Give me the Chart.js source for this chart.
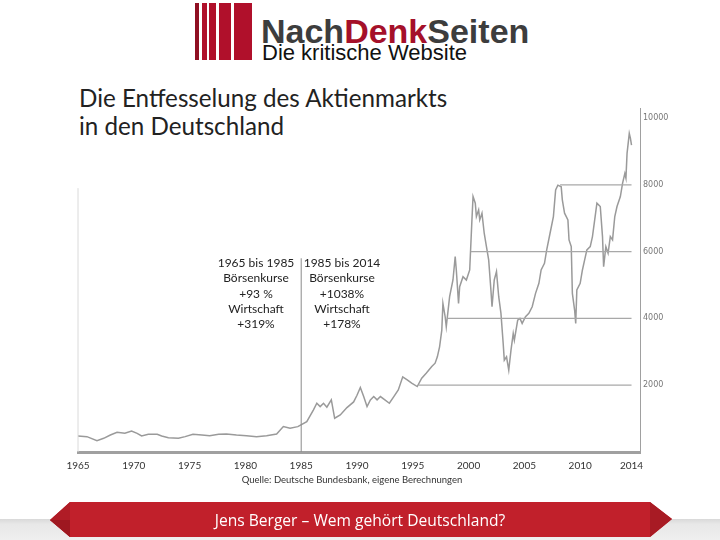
<!DOCTYPE html>
<html>
<head>
<meta charset="utf-8">
<script src="https://cdn.jsdelivr.net/npm/chart.js@4/dist/chart.umd.min.js"></script>
<style>
  html, body { margin:0; padding:0; background:#fff; }
  #wrap { position:relative; width:720px; height:540px; overflow:hidden; background:#fff; }
  #c { position:absolute; left:0; top:0; }
  .abs { position:absolute; white-space:nowrap; }
  .bar { position:absolute; top:3px; height:57px; background:#b0102b; }
  #logo1 { left:261px; top:12px; font-family:"Liberation Sans", Arial, sans-serif; font-weight:bold; font-size:34px; color:#3d3d3d; }
  #logo1 span { color:#a5102a; }
  #logo2 { left:262px; top:40px; font-family:"Liberation Sans", Arial, sans-serif; font-size:22px; color:#111; }
  #title { left:79px; top:84px; font-family:Lato, "Noto Sans", sans-serif; font-weight:400; font-size:24.2px; line-height:28px; color:#222; }
  .ann { position:absolute; top:255px; width:100px; text-align:center; font-family:Lato, "Noto Sans", sans-serif; font-size:12px; line-height:15.3px; color:#222; }
  #src { left:0; width:704px; top:474px; text-align:center; font-family:Lato, "Noto Sans", sans-serif; font-size:9.5px; color:#333; }
  #bannerText { left:0; width:720px; top:509px; text-align:center; font-family:"Open Sans", "Noto Sans", sans-serif; font-size:15.6px; color:#fff; }
</style>
</head>
<body>
<div id="wrap">
  <div class="bar" style="left:195px;width:4px;background:#8f0f22"></div>
  <div class="bar" style="left:202px;width:5px"></div>
  <div class="bar" style="left:209px;width:7px"></div>
  <div class="bar" style="left:219px;width:12px"></div>
  <div class="bar" style="left:234px;width:18px"></div>
  <div id="logo1" class="abs">Nach<span>Denk</span>Seiten</div>
  <div id="logo2" class="abs">Die kritische Website</div>
  <div id="title" class="abs">Die Entfesselung des Aktienmarkts<br>in den Deutschland</div>
  <canvas id="c" width="720" height="540"></canvas>
  <div class="ann" style="left:206px">1965 bis 1985<br>Börsenkurse<br>+93 %<br>Wirtschaft<br>+319%</div>
  <div class="ann" style="left:292px">1985 bis 2014<br>Börsenkurse<br>+1038%<br>Wirtschaft<br>+178%</div>
  <div id="src" class="abs">Quelle: Deutsche Bundesbank, eigene Berechnungen</div>
  <svg class="abs" style="left:0;top:495px" width="720" height="45">
    <defs>
      <linearGradient id="gb" x1="0" y1="0" x2="0" y2="1">
        <stop offset="0" stop-color="#d9d9d9"/>
        <stop offset="0.25" stop-color="#e8e8e8"/>
        <stop offset="1" stop-color="#efefef"/>
      </linearGradient>
    </defs>
    <rect x="0" y="24" width="720" height="21" fill="url(#gb)"/>
    <polygon points="70,7 650,7 672,24 650,42 70,42 50,25" fill="#c1202b"/>
    <polygon points="50,25 70,7 70,42" fill="#b01c26"/>
    <polygon points="50,25 70,25 70,42" fill="#9e1820"/>
    <polygon points="650,7 672,24 650,42" fill="#a81b24"/>
  </svg>
  <div id="bannerText" class="abs">Jens Berger – Wem gehört Deutschland?</div>
</div>
<script>
// ---- data (index level by year) ----
const years = [
  1965.0,1965.8,1966.7,1967.3,1967.9,1968.5,1969.2,1969.8,1970.3,1970.7,1971.3,1972.1,1972.5,1973.1,1974.0,1974.6,
  1975.3,1976.1,1976.8,1977.6,1978.3,1979.2,1980.1,1981.0,1981.9,1982.8,1983.4,1984.0,1984.7,1985.5,1986.1,1986.4,
  1986.7,1987.0,1987.3,1987.7,1988.0,1988.5,1989.1,1989.7,1990.0,1990.3,1990.6,1990.9,1991.2,1991.5,1991.8,1992.1,
  1992.5,1992.9,1993.3,1993.7,1994.1,1994.5,1994.9,1995.4,1995.8,1996.2,1996.7,1997.0,1997.2,1997.4,1997.6,1997.7,
  1997.9,1998.0,1998.3,1998.6,1998.8,1998.9,1999.1,1999.2,1999.5,1999.8,2000.1,2000.3,2000.4,2000.6,2000.7,2000.9,
  2001.0,2001.2,2001.4,2001.6,2001.8,2002.0,2002.1,2002.3,2002.5,2002.7,2002.9,2003.1,2003.2,2003.4,2003.6,2003.8,
  2004.0,2004.1,2004.4,2004.6,2004.8,2005.1,2005.4,2005.7,2006.0,2006.3,2006.5,2006.8,2007.0,2007.3,2007.6,2007.8,
  2008.0,2008.3,2008.4,2008.6,2008.9,2009.0,2009.2,2009.3,2009.5,2009.6,2009.7,2010.0,2010.2,2010.4,2010.6,2010.9,
  2011.1,2011.3,2011.5,2011.8,2012.0,2012.1,2012.3,2012.5,2012.7,2012.9,2013.1,2013.3,2013.6,2013.8,2014.0,2014.1,
  2014.2,2014.4,2014.5,2014.6];
const values = [
  480,460,340,410,510,590,560,630,560,480,530,530,480,430,410,460,
  530,510,490,530,540,510,490,460,490,540,760,710,760,910,1260,1460,
  1360,1460,1340,1560,1010,1110,1330,1500,1700,1930,1660,1360,1560,1660,1560,1660,
  1560,1460,1660,1860,2250,2160,2060,1960,2210,2360,2560,2660,2850,3150,3650,4450,
  4050,3750,4650,5150,5850,5450,4450,4950,5250,5150,5450,6950,7650,7450,7050,7250,
  6950,7150,6550,6150,5750,4850,4350,5150,5400,4650,4150,3250,2750,2850,2450,3050,
  3550,3350,3950,4000,3850,4050,4150,4350,4750,5050,5450,5650,6050,6550,7050,7850,
  7990,7940,7550,7150,6950,6350,6150,4750,4250,3850,4850,5050,5450,5750,6050,6150,
  6450,6950,7450,7350,6450,5550,6150,5950,6450,6350,7050,7350,7650,8050,8340,8200,
  8940,9540,9400,9190];
const gridLevels = [2000, 4000, 6000, 8000];
const gridStartYears = [1995.5, 1998.1, 2000.2, 2008.2];
const dividerYear = 1985;
const dividerTop = 5800;
const leftLineTop = 7900;
const tickYears = [1965,1970,1975,1980,1985,1990,1995,2000,2005,2010,2014.6];
const tickLabels = ['1965','1970','1975','1980','1985','1990','1995','2000','2005','2010','2014'];
const yTicks = [2000, 4000, 6000, 8000, 10000];

const seriesData = years.map((y, i) => ({ x: y, y: values[i] }));
const endYear = years[years.length - 1];

const datasets = [
  { data: [{x: years[0], y: 0}, {x: years[0], y: leftLineTop}], borderColor: '#dadada', borderWidth: 1, pointRadius: 0, clip: false },
  ...gridLevels.map((lv, i) => ({
    data: [{x: gridStartYears[i], y: lv}, {x: endYear, y: lv}],
    borderColor: '#a8a8a8', borderWidth: 1.2, pointRadius: 0
  })),
  { data: [{x: dividerYear, y: 0}, {x: dividerYear, y: dividerTop}], borderColor: '#8a8a8a', borderWidth: 1, pointRadius: 0 },
  { data: seriesData, borderColor: '#9a9a9a', borderWidth: 1.5, pointRadius: 0, tension: 0 }
];

new Chart(document.getElementById('c'), {
  type: 'line',
  data: { datasets },
  options: {
    responsive: false,
    animation: false,
    devicePixelRatio: 1,
    layout: { padding: { left: 78, top: 108, right: 0, bottom: 58 } },
    plugins: { legend: { display: false }, tooltip: { enabled: false } },
    scales: {
      x: {
        type: 'linear', min: 1965, max: 2015.36,
        grid: { display: false, drawTicks: false },
        border: { color: '#a0a0a0', width: 3, dash: [1, 1] },
        afterBuildTicks: s => { s.ticks = tickYears.map(v => ({ value: v })); },
        afterFit: s => { s.height = 30; },
        ticks: {
          autoSkip: false, maxRotation: 0, padding: 8,
          color: '#333', font: { family: 'Lato, "Noto Sans", sans-serif', size: 10 },
          callback: (v, i) => tickLabels[i]
        }
      },
      y: {
        type: 'linear', position: 'right', min: 0, max: 10300,
        grid: { display: false, drawTicks: false },
        border: { color: '#a0a0a0', width: 1 },
        afterBuildTicks: s => { s.ticks = yTicks.map(v => ({ value: v })); },
        afterFit: s => { s.width = 80; },
        ticks: {
          padding: 3, color: '#777',
          font: { family: '"DejaVu Sans", sans-serif', size: 8 },
          callback: v => String(v)
        }
      }
    }
  }
});
</script>
</body>
</html>
